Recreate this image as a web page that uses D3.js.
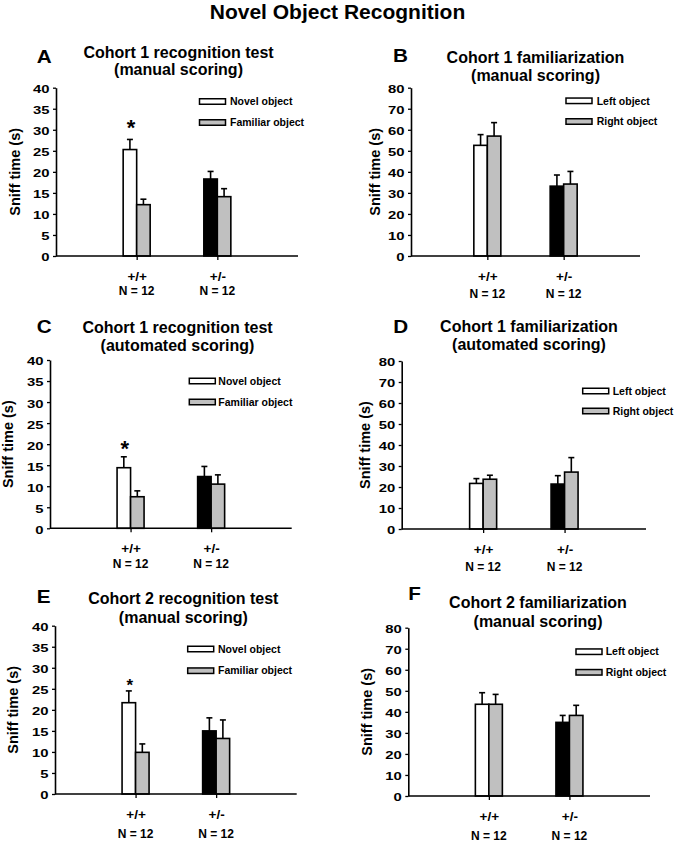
<!DOCTYPE html>
<html>
<head>
<meta charset="utf-8">
<script src="https://cdn.jsdelivr.net/npm/d3@7"></script>
<style>
  html, body { margin: 0; padding: 0; background: #fff; }
  svg { display: block; font-family: "Liberation Sans", Arial, sans-serif; font-weight: bold; }
</style>
</head>
<body>
<svg id="chart" width="675" height="842"></svg>
<script>
// ---------------- DATA ----------------
const mainTitle = "Novel Object Recognition";
const genotypes = ["+/+", "+/-"];
const sampleSizes = ["N = 12", "N = 12"];
const recognitionSeries = ["Novel object", "Familiar object"];
const familiarizationSeries = ["Left object", "Right object"];
const panelLetters = ["A", "B", "C", "D", "E", "F"];
const panelTitleLine1 = [
  "Cohort 1 recognition test", "Cohort 1 familiarization",
  "Cohort 1 recognition test", "Cohort 1 familiarization",
  "Cohort 2 recognition test", "Cohort 2 familiarization"
];
const panelTitleLine2 = [
  "(manual scoring)", "(manual scoring)",
  "(automated scoring)", "(automated scoring)",
  "(manual scoring)", "(manual scoring)"
];
const yAxisLabel = "Sniff time (s)";
const yMaxValues = [40, 80, 40, 80, 40, 80];
const yTickSteps = [5, 10, 5, 10, 5, 10];
// means: [genotype][series]
const meansA = [[25.3, 12.2], [18.3, 14.1]];
const semA   = [[2.4, 1.3], [1.8, 1.9]];
const meansB = [[52.6, 57.0], [33.2, 34.2]];
const semB   = [[5.1, 6.4], [5.3, 6.0]];
const meansC = [[14.4, 7.5], [12.3, 10.5]];
const semC   = [[2.6, 1.4], [2.4, 2.2]];
const meansD = [[21.7, 23.7], [21.4, 27.1]];
const semD   = [[2.3, 1.9], [4.0, 6.9]];
const meansE = [[21.7, 9.9], [15.0, 13.2]];
const semE   = [[2.8, 2.0], [3.1, 4.4]];
const meansF = [[43.6, 43.6], [35.0, 38.3]];
const semF   = [[5.5, 4.7], [3.3, 4.8]];
const significance = ["*", "", "*", "", "*", ""]; // over +/+ first bar

const panelMeans = [meansA, meansB, meansC, meansD, meansE, meansF];
const panelSem = [semA, semB, semC, semD, semE, semF];
const panelSeries = [recognitionSeries, familiarizationSeries, recognitionSeries,
                     familiarizationSeries, recognitionSeries, familiarizationSeries];

// ---------------- LAYOUT (positions / styles) ----------------
const layout = [
  {ax:56,    ar:298,   yb:256,   yt:87.7,  letter:[36.7,62.7],  title:[178.5,57.7,75.2], leg:[199.5,230,101.5,122.5], ylab:15,   nOff:38.5, astOff:20, astSize:22},
  {ax:411,   ar:640,   yb:256,   yt:87.7,  letter:[393,61.7],   title:[535.5,62.7,80.7], leg:[566,596.7,100.8,121.5], ylab:375,  nOff:42},
  {ax:50,    ar:291.7, yb:528.3, yt:360,   letter:[36.7,333.3], title:[177.5,332.7,350.7], leg:[189.3,218.3,381,402], ylab:8,   nOff:40, astOff:17, astSize:22},
  {ax:401.7, ar:646,   yb:529,   yt:361,   letter:[393.3,332.7], title:[529,331.7,350],  leg:[582.7,612.7,391,411],  ylab:365,  nOff:42},
  {ax:55,    ar:296.7, yb:794,   yt:625.7, letter:[36.7,603.3], title:[183.3,604.3,622.7], leg:[187.7,218,649,670.7], ylab:12.5, nOff:44, astOff:12, astSize:17},
  {ax:408.3, ar:650,   yb:796,   yt:627.7, letter:[408.3,600],  title:[538,607.7,626.7], leg:[576,605.7,651.7,672.3], ylab:367,  nOff:44}
];
const barWidth = 13.5;
const grayFill = "#c0c0c0";
const strokeW = 1.6;

const svg = d3.select("#chart");

svg.append("text")
  .attr("x", 337.5).attr("y", 18.5)
  .attr("text-anchor", "middle")
  .attr("font-size", 21)
  .text(mainTitle);

function fillFor(gi, si) {
  if (si === 1) return grayFill;
  return gi === 0 ? "#ffffff" : "#000000";
}

panelLetters.forEach((letter, p) => {
  const L = layout[p];
  const g = svg.append("g");
  const means = panelMeans[p];
  const sem = panelSem[p];
  const series = panelSeries[p];

  const x = d3.scalePoint().domain(genotypes).range([L.ax, L.ar]).padding(1);
  const y = d3.scaleLinear().domain([0, yMaxValues[p]]).range([L.yb, L.yt]);

  // letter & title
  g.append("text").attr("x", L.letter[0]).attr("y", L.letter[1])
    .attr("font-size", 18)
    .attr("transform", `translate(${L.letter[0]},0) scale(1.15,1) translate(${-L.letter[0]},0)`)
    .text(letter);
  g.append("text").attr("x", L.title[0]).attr("y", L.title[1])
    .attr("text-anchor", "middle").attr("font-size", 16).text(panelTitleLine1[p]);
  g.append("text").attr("x", L.title[0]).attr("y", L.title[2])
    .attr("text-anchor", "middle").attr("font-size", 16).text(panelTitleLine2[p]);

  // bars
  genotypes.forEach((gt, gi) => {
    series.forEach((s, si) => {
      const cx = x(gt) + (si - 1) * barWidth; // left edge
      const v = means[gi][si];
      const e = sem[gi][si];
      const mid = cx + barWidth / 2;
      // error bar (upper)
      g.append("line")
        .attr("x1", mid).attr("x2", mid)
        .attr("y1", y(v)).attr("y2", y(v + e))
        .attr("stroke", "#000").attr("stroke-width", strokeW);
      g.append("line")
        .attr("x1", mid - 3).attr("x2", mid + 3)
        .attr("y1", y(v + e)).attr("y2", y(v + e))
        .attr("stroke", "#000").attr("stroke-width", strokeW);
      g.append("rect")
        .attr("x", cx).attr("y", y(v))
        .attr("width", barWidth).attr("height", y(0) - y(v))
        .attr("fill", fillFor(gi, si))
        .attr("stroke", "#000").attr("stroke-width", strokeW);
      if (gi === 0 && si === 0 && significance[p]) {
        g.append("text")
          .attr("x", mid + 1).attr("y", y(v + e) - L.astOff)
          .attr("dy", "0.72em")
          .attr("text-anchor", "middle")
          .attr("font-size", L.astSize)
          .text(significance[p]);
      }
    });
  });

  // y axis
  const ticks = d3.range(0, yMaxValues[p] + 0.001, yTickSteps[p]);
  const yAxis = g.append("g")
    .attr("transform", `translate(${L.ax},0)`)
    .call(d3.axisLeft(y).tickValues(ticks).tickSize(3).tickSizeOuter(0));
  yAxis.select(".domain").attr("stroke-width", strokeW);
  yAxis.selectAll(".tick line").attr("stroke-width", 1.3);
  yAxis.selectAll(".tick text")
    .attr("font-family", "Liberation Sans, Arial, sans-serif")
    .attr("font-weight", "bold")
    .attr("font-size", 11)
    .attr("fill", "#000")
    .attr("x", -6.5 / 1.35)
    .attr("dy", "0.45em")
    .attr("transform", "scale(1.35,1)");

  // x axis
  const xAxis = g.append("g")
    .attr("transform", `translate(0,${L.yb})`)
    .call(d3.axisBottom(x).tickSize(4).tickSizeOuter(0));
  xAxis.select(".domain").attr("stroke-width", strokeW)
    .attr("d", `M${L.ax},0H${L.ar}`);
  xAxis.selectAll(".tick line").attr("stroke-width", 1.3);
  xAxis.selectAll(".tick text")
    .attr("font-family", "Liberation Sans, Arial, sans-serif")
    .attr("font-weight", "bold")
    .attr("font-size", 13.5)
    .attr("fill", "#000")
    .attr("y", 24.5).attr("dy", 0);

  // N labels
  genotypes.forEach((gt, gi) => {
    g.append("text")
      .attr("x", x(gt)).attr("y", L.yb + L.nOff)
      .attr("text-anchor", "middle").attr("font-size", 12)
      .text(sampleSizes[gi]);
  });

  // y label
  const yc = (L.yb + L.yt) / 2;
  g.append("text")
    .attr("transform", `translate(${L.ylab},${yc}) rotate(-90)`)
    .attr("text-anchor", "middle")
    .attr("dy", "0.35em")
    .attr("font-size", 14.5)
    .text(yAxisLabel);

  // legend
  series.forEach((s, si) => {
    const ly = L.leg[2 + si];
    g.append("rect")
      .attr("x", L.leg[0]).attr("y", ly - 2.75)
      .attr("width", 26).attr("height", 5.5)
      .attr("fill", si === 0 ? "#ffffff" : grayFill)
      .attr("stroke", "#000").attr("stroke-width", 1.5);
    g.append("text")
      .attr("x", L.leg[1]).attr("y", ly)
      .attr("dy", "0.36em")
      .attr("font-size", 10.5)
      .text(s);
  });
});
</script>
</body>
</html>
